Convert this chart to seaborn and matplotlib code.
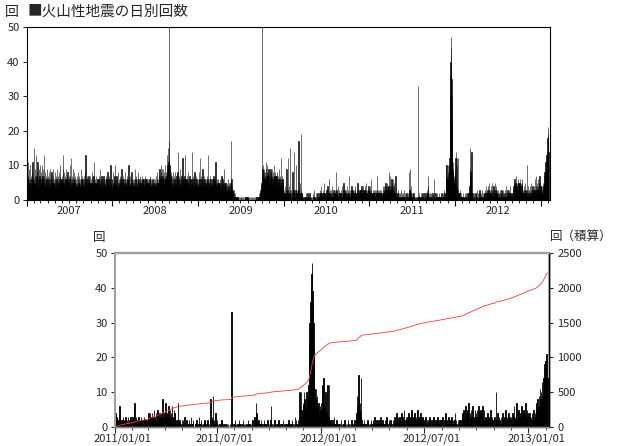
import numpy as np
import pandas as pd
import matplotlib
matplotlib.use("Agg")
import matplotlib.pyplot as plt
import matplotlib.dates as mdates
from matplotlib.ticker import NullFormatter
from matplotlib.transforms import ScaledTranslation, blended_transform_factory
import seaborn as sns

# ---------------- data: daily counts, one inner list per month ----------------
counts_2007 = [
    [5,3,8,4,6,11,3,5,7,4, 9,3,6,5,4,10,6,3,5,7, 4,6,8,3,5,4,11,6,3,7, 5],
    [4,6,15,5,3,7,9,4,5,6, 13,4,7,3,5,8,11,4,6,5, 3,9,6,4,7,10,5,4],
    [6,4,5,8,3,6,10,5,4,7, 6,3,9,5,4,6,13,7,4,5, 8,6,3,5,7,4,6,9,5,4, 6],
    [3,5,7,4,6,8,3,5,4,9, 6,5,3,7,4,6,5,8,3,6, 4,5,7,3,9,5,6,4,5,3],
    [6,4,8,5,3,7,5,4,6,3, 9,5,4,7,6,3,5,8,4,6, 5,3,7,4,10,6,5,4,3,6, 5],
    [4,7,5,6,9,4,13,5,3,6, 8,4,5,7,3,6,4,9,5,3, 6,4,7,5,8,4,6,3,5,7],
    [5,3,6,4,7,10,5,4,6,12, 5,3,7,4,6,5,9,4,3,6, 5,4,8,3,5,6,4,7,3,5, 4],
    [6,4,5,3,7,4,6,5,8,3, 5,4,6,7,4,3,5,6,4,9, 5,3,6,4,5,7,3,6,4,5, 3],
    [4,6,5,7,3,5,4,6,8,13, 4,5,3,6,5,7,4,3,6,5, 4,7,3,5,4,6,5,3,7,4],
    [5,3,6,4,5,7,3,8,5,4, 6,3,5,7,4,6,11,5,3,4, 6,5,3,7,4,5,6,3,4,5, 6],
    [3,5,4,6,7,3,5,4,6,3, 9,5,4,6,3,5,7,4,6,5, 3,4,6,5,7,3,4,5,6,4],
    [5,4,6,3,5,7,4,6,3,5, 4,8,6,3,5,4,6,7,3,5, 4,6,3,5,10,4,6,5,3,4, 6],
]
counts_2008 = [
    [4,6,3,5,8,4,5,3,6,4, 7,5,3,10,4,6,5,3,4,7, 5,6,3,4,5,8,4,3,6,5, 4],
    [3,5,4,7,3,6,4,5,3,9, 4,6,3,5,4,7,3,5,6,4, 3,5,4,6,8,3,5,4,3],
    [6,4,3,5,7,4,6,3,5,4, 10,3,5,6,4,3,7,5,4,6, 3,5,4,8,3,6,4,5,3,4, 6],
    [4,5,3,6,4,9,5,3,4,6, 5,3,7,4,5,6,3,4,5,8, 4,3,6,5,4,3,5,6,4,7],
    [5,3,6,4,5,3,4,7,5,6, 3,4,5,6,4,3,5,4,7,3, 5,6,4,5,3,4,6,5,3,4, 5],
    [4,6,3,5,4,3,5,6,4,5, 7,3,4,5,3,6,4,5,3,4, 6,5,4,3,5,4,6,3,5,4],
    [5,4,6,3,5,7,4,5,3,6, 4,8,5,3,4,6,5,7,4,6, 9,5,7,4,6,8,5,7,10,6, 9],
    [5,4,7,3,6,9,5,4,8,3, 6,5,10,4,7,6,5,8,4,7, 13,8,7,10,9,15,8,11,9,17, 12],
    [58,10,8,6,9,7,5,8,6,4, 7,5,6,4,8,5,3,6,4,5, 7,4,6,3,5,8,4,6,5,4],
    [5,7,4,6,3,8,5,4,14,6, 3,5,7,4,6,5,3,9,4,6, 5,3,7,4,5,6,12,4,5,3, 6],
    [4,6,5,3,7,4,5,13,6,4, 3,5,6,4,7,3,5,4,6,8, 5,3,4,6,5,7,3,4,5,6],
    [5,3,6,4,14,5,3,4,6,5, 7,3,4,6,5,3,8,4,5,6, 3,4,7,5,3,6,4,5,3,4, 5],
]
counts_2009 = [
    [4,6,3,5,8,4,3,6,5,12, 4,3,5,7,4,6,3,5,4,9, 3,5,6,4,3,7,5,4,6,3, 5],
    [3,5,4,6,3,4,7,5,3,4, 6,13,4,5,3,6,4,3,5,7, 4,3,5,6,4,3,5,4],
    [5,3,4,6,3,5,4,7,3,5, 4,3,6,4,5,3,11,4,3,5, 4,6,3,4,5,3,4,6,3,5, 4],
    [3,4,5,3,6,4,3,5,4,3, 7,4,5,3,4,6,3,4,5,3, 4,9,3,5,4,3,4,5,3,4],
    [3,4,2,5,3,4,3,2,6,3, 4,2,3,5,3,2,4,3,2,5, 3,4,17,6,3,2,4,3,2,3, 1],
    [2,1,3,1,2,1,0,2,1,1, 0,1,0,1,0,0,1,0,1,0, 0,1,0,0,1,0,0,1,0,0],
    [0,1,0,0,1,0,0,0,1,0, 0,1,0,0,0,1,0,0,0,1, 0,0,1,0,0,0,1,0,0,0, 1],
    [0,0,1,0,0,0,1,0,0,0, 0,1,0,0,1,0,0,0,1,0, 0,0,0,1,0,0,1,0,0,0, 0],
    [1,0,0,0,1,0,0,1,0,0, 0,1,0,0,0,1,0,2,0,1, 0,1,2,1,3,2,4,3,5,58],
    [8,6,9,5,7,10,6,8,5,7, 9,6,4,8,7,5,9,6,11,7, 5,8,6,10,7,5,8,6,9,7, 5],
    [7,5,8,6,4,9,7,5,6,8, 4,7,5,9,6,4,7,8,5,6, 10,4,7,5,8,6,4,7,5,6],
    [5,7,4,6,8,3,5,7,4,6, 3,9,5,4,6,3,7,5,4,12, 6,3,5,4,7,3,6,4,5,3, 6],
]
counts_2010 = [
    [2,1,3,0,2,1,4,2,0,1, 3,2,1,9,2,0,1,3,12,2, 1,0,2,4,1,2,15,3,1,2, 0],
    [1,3,2,0,1,2,1,8,2,0, 1,3,1,2,14,2,1,0,2,1, 3,2,10,1,2,0,1,3],
    [2,1,0,3,1,17,2,4,1,0, 2,1,5,2,19,3,1,2,0,1, 2,0,1,0,1,0,0,1,0,0, 1],
    [0,1,0,0,1,2,0,1,0,0, 1,0,2,1,0,0,1,0,0,1, 0,2,0,1,0,0,1,0,1,0],
    [0,0,1,0,2,1,0,0,1,0, 0,3,1,0,0,1,0,2,0,1, 0,0,1,0,0,2,1,0,0,1, 0],
    [1,0,2,1,0,3,1,2,0,1, 4,2,1,0,2,1,3,1,0,2, 1,0,5,1,2,0,1,2,1,0],
    [2,1,3,1,0,2,4,1,2,3, 1,0,2,1,6,2,1,3,2,1, 0,2,3,1,2,1,4,2,0,1, 2],
    [1,3,2,1,0,2,1,3,2,1, 8,2,1,0,3,2,1,2,1,4, 1,2,0,1,3,2,1,2,1,0, 2],
    [2,1,3,2,1,4,2,1,0,2, 3,1,2,5,1,2,1,3,2,0, 1,2,3,1,2,1,4,2,1,2],
    [1,2,3,1,2,1,7,2,1,3, 2,1,0,2,1,3,2,4,1,2, 1,3,2,1,0,2,3,1,2,1, 4],
    [2,1,3,2,1,2,0,1,3,2, 1,5,2,1,3,1,2,0,1,2, 3,1,2,1,3,2,1,2,4,1],
    [2,3,1,2,4,1,2,3,1,2, 1,3,2,4,1,2,3,2,1,5, 2,1,3,2,1,2,3,1,4,2, 3],
]
counts_2011 = [
    [3,2,4,1,3,2,0,2,3,6, 2,1,2,1,2,3,1,0,2,3, 2,1,2,1,3,1,0,2,3,1, 0],
    [2,3,1,2,7,2,1,3,2,0, 2,3,1,2,2,1,3,2,0,1, 2,3,2,1,2,0,1,2],
    [3,4,2,3,4,3,2,4,3,2, 2,5,3,2,4,2,3,5,4,3, 2,4,3,4,3,2,8,3,2,4, 3],
    [7,3,4,2,3,6,4,3,5,2, 4,3,6,3,2,5,4,3,2,1, 1,2,7,1,0,2,1,1,0,2],
    [1,2,0,1,3,0,1,2,0,1, 1,0,2,1,0,3,1,0,1,2, 0,0,1,1,0,2,1,0,1,3, 1],
    [0,1,2,0,1,0,1,0,2,1, 0,0,1,2,1,0,1,0,2,8, 1,3,2,9,1,2,0,1,4,1],
    [2,0,1,0,0,1,0,2,2,0, 1,0,0,1,0,1,0,0,1,0, 1,0,0,1,0,1,33,1,0,1, 0],
    [1,2,0,1,0,1,1,0,2,1, 0,1,0,0,1,2,0,1,0,1, 0,1,0,0,2,1,0,1,0,1, 0],
    [1,2,1,0,3,1,2,7,4,3, 1,0,2,1,0,1,2,0,1,1, 0,2,1,0,1,1,0,2,1,0],
    [1,0,1,2,6,1,0,1,0,1, 2,0,1,0,1,1,0,2,1,0, 1,0,1,1,0,2,0,1,1,0, 1],
    [1,0,1,0,2,1,0,1,1,0, 2,1,0,1,0,3,1,2,1,0, 2,1,3,10,6,4,10,5,3,7],
    [6,10,8,7,5,10,9,8,7,12, 24,30,36,40,44,47,39,35,30,22, 11,8,11,7,9,6,5,7,4,6, 5],
]
counts_2012 = [
    [7,5,9,12,14,4,6,3,10,2, 4,12,2,3,12,1,2,2,1,0, 2,1,0,3,1,0,1,2,0,1, 0],
    [1,0,1,0,2,0,1,0,1,1, 0,2,0,1,0,1,0,2,1,0, 1,0,1,2,0,1,0,1,2],
    [1,0,2,4,9,6,15,8,5,7, 4,14,2,1,0,1,2,1,0,1, 0,1,2,1,0,1,0,1,2,0, 1],
    [1,2,0,1,3,1,0,2,1,1, 0,2,1,0,3,1,1,0,2,1, 0,1,2,1,0,3,1,1,0,2],
    [1,0,2,1,1,0,2,1,0,3, 2,1,4,2,1,3,2,0,3,2, 1,4,2,3,1,2,5,2,1,3, 2],
    [2,3,1,4,2,1,3,2,5,1, 2,3,2,4,1,2,3,1,2,5, 2,1,3,2,4,1,2,3,2,1],
    [1,2,0,3,1,2,1,0,2,1, 3,1,2,0,1,2,1,3,1,0, 2,1,2,1,3,0,1,2,1,2, 1],
    [2,1,3,1,0,2,1,4,1,2, 0,1,3,2,1,0,2,1,3,1, 2,0,1,2,4,1,2,1,0,2, 1],
    [1,2,1,2,1,3,4,2,5,3, 2,6,3,4,2,5,3,7,2,4, 3,5,2,3,6,4,2,3,5,3],
    [4,2,5,3,6,2,4,3,5,2, 4,6,3,2,5,2,1,3,1,2, 4,1,3,2,1,3,5,2,3,1, 2],
    [2,1,3,1,10,2,1,4,2,1, 3,2,0,3,1,2,4,1,2,3, 1,5,2,1,3,2,4,1,3,2],
    [2,3,1,4,2,3,6,1,3,2, 4,7,2,3,5,1,4,2,3,6, 2,4,3,5,1,4,7,2,3,5, 4],
]
counts_2013 = [
    [2,3,1,4,2,3,2,4,1,3, 5,2,4,3,5,7,4,8,5,9, 6,11,8,10,7,13,9,14,11,18, 15],
    [19,13,21,14],
]

top_labels = ["2007", "2008", "2009", "2010", "2011", "2012"]
bottom_ticks = ["2011-01-01", "2011-07-01", "2012-01-01", "2012-07-01", "2013-01-01"]
bottom_labels = ["2011/01/01", "2011/07/01", "2012/01/01", "2012/07/01", "2013/01/01"]
title_text = "■火山性地震の日別回数"
unit_left = "回"
unit_right = "回（積算）"


def build(years):
    dates, vals = [], []
    for year, months in years:
        for m, mv in enumerate(months, start=1):
            start = pd.Timestamp(year, m, 1)
            dates.extend(list(start + pd.to_timedelta(np.arange(len(mv)), unit="D")))
            vals.extend(mv)
    return pd.DataFrame({"date": pd.to_datetime(dates), "count": vals})


top_df = build([(2007, counts_2007), (2008, counts_2008), (2009, counts_2009),
                (2010, counts_2010), (2011, counts_2011), (2012, counts_2012),
                (2013, counts_2013)])
bot_df = build([(2011, counts_2011), (2012, counts_2012), (2013, counts_2013)])
bot_df["cum"] = bot_df["count"].cumsum()

# ---------------- style ----------------
sns.set_style("ticks")
plt.rcParams["font.family"] = ["Noto Sans CJK JP", "DejaVu Sans"]
plt.rcParams["axes.linewidth"] = 0.8

W, H = 640, 446
fig = plt.figure(figsize=(W / 100, H / 100), dpi=100)


def frac(x0, y0, x1, y1):
    return [x0 / W, 1 - y1 / H, (x1 - x0) / W, (y1 - y0) / H]


# ---------------- top chart ----------------
ax1 = fig.add_axes(frac(26.5, 27, 550, 200))
sns.histplot(data=top_df, x="date", weights="count", discrete=True,
             color="black", edgecolor="black", linewidth=0.4, alpha=1,
             ax=ax1)
ax1.set_xlim(pd.Timestamp("2007-01-01"), pd.Timestamp("2013-02-10"))
ax1.set_ylim(0, 50)
ax1.set_yticks(range(0, 51, 10))
ax1.set_xlabel("")
ax1.set_ylabel("")
ax1.xaxis.set_major_locator(mdates.YearLocator())
ax1.xaxis.set_major_formatter(NullFormatter())
ax1.xaxis.set_minor_locator(mdates.MonthLocator())
ax1.tick_params(axis="x", which="major", length=4, width=0.8, color="black")
ax1.tick_params(axis="x", which="minor", length=2, width=0.6, color="black")
ax1.tick_params(axis="y", length=3, width=0.8, labelsize=8, pad=2)
for s in ax1.spines.values():
    s.set_color("black")
    s.set_linewidth(0.8)
trans = blended_transform_factory(ax1.transData, ax1.transAxes)
for lab in top_labels:
    ax1.text(pd.Timestamp(f"{lab}-07-02"), -0.065, lab, transform=trans,
             ha="center", va="center", fontsize=8)

fig.text(5 / W, 1 - 12 / H, "回", fontsize=10, va="center", ha="left")
fig.text(28 / W, 1 - 12 / H, title_text, fontsize=10.5, va="center", ha="left")

# ---------------- bottom chart ----------------
ax2 = fig.add_axes(frac(114.5, 253, 549, 427))
sns.histplot(data=bot_df, x="date", weights="count", discrete=True,
             color="black", edgecolor="black", linewidth=0.6, alpha=1,
             ax=ax2)
ax2.set_xlim(pd.Timestamp("2011-01-01"), pd.Timestamp("2013-02-07"))
ax2.set_ylim(0, 50)
ax2.set_yticks(range(0, 51, 10))
ax2.set_xlabel("")
ax2.set_ylabel("")
ax2.set_xticks(pd.to_datetime(bottom_ticks))
ax2.set_xticklabels(bottom_labels)
ax2.xaxis.set_minor_locator(mdates.MonthLocator())
ax2.tick_params(axis="x", which="major", length=4, width=0.8, labelsize=8, pad=1)
ax2.tick_params(axis="x", which="minor", length=2, width=0.6)
ax2.tick_params(axis="y", length=3, width=0.8, labelsize=8, pad=2)
offset = ScaledTranslation(8 / 100, 0, fig.dpi_scale_trans)
for lab in ax2.get_xticklabels():
    lab.set_transform(lab.get_transform() + offset)

axr = ax2.twinx()
sns.lineplot(data=bot_df, x="date", y="cum", color="#ff3a3a", linewidth=0.6,
             ax=axr)
axr.set_ylim(0, 2500)
axr.set_yticks(range(0, 2501, 500))
axr.set_ylabel("")
axr.set_xlim(pd.Timestamp("2011-01-01"), pd.Timestamp("2013-02-07"))
axr.tick_params(axis="y", length=3, width=0.8, labelsize=8, pad=3)

for ax in (ax2, axr):
    ax.spines["top"].set_color("#a0a0a0")
    ax.spines["top"].set_linewidth(1.6)
    ax.spines["left"].set_color("#a0a0a0")
    ax.spines["left"].set_linewidth(1.4)
    ax.spines["bottom"].set_color("#808080")
    ax.spines["bottom"].set_linewidth(1.0)
    ax.spines["right"].set_color("black")
    ax.spines["right"].set_linewidth(1.0)

fig.text(93 / W, 1 - 237 / H, unit_left, fontsize=9, va="center", ha="left")
fig.text(550 / W, 1 - 237 / H, unit_right, fontsize=9, va="center", ha="left")

fig.savefig("out.png", dpi=100)
